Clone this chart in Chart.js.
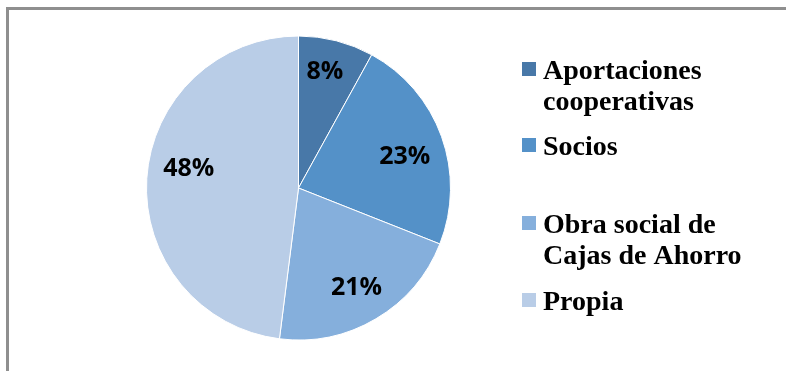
<!DOCTYPE html>
<html>
<head>
<meta charset="utf-8">
<script src="https://cdn.jsdelivr.net/npm/chart.js@4/dist/chart.umd.min.js"></script>
<style>
  html, body { margin: 0; padding: 0; background: #fff; }
  #wrap { position: relative; width: 786px; height: 371px; overflow: hidden; }
  #frame { position: absolute; left: 6px; top: 7px; width: 800px; height: 400px;
           border-top: 3px solid #8f8f8f; border-left: 3px solid #8f8f8f; }
  canvas { position: absolute; left: 0; top: 0; }
</style>
</head>
<body>
<div id="wrap">
  <div id="frame"></div>
  <canvas id="pie" width="786" height="371"></canvas>
</div>
<script>
/* datos del gráfico */
var categories = [['Aportaciones', 'cooperativas'], ['Socios'], ['Obra social de', 'Cajas de Ahorro'], ['Propia']];
var shares = [8, 23, 21, 48];
var sliceColors = ['#4878A8', '#5491C8', '#85AFDC', '#B9CDE7'];

/* etiquetas de porcentaje dentro de cada sector */
var pctLabels = {
  id: 'pctLabels',
  afterDatasetsDraw: function (chart, args, opts) {
    var ctx = chart.ctx;
    var meta = chart.getDatasetMeta(0);
    var data = chart.data.datasets[0].data;
    ctx.save();
    ctx.font = opts.font;
    ctx.fillStyle = '#000';
    ctx.textAlign = 'center';
    ctx.textBaseline = 'middle';
    meta.data.forEach(function (arc, i) {
      var p = arc.getProps(['x', 'y', 'startAngle', 'endAngle', 'outerRadius'], true);
      var mid = (p.startAngle + p.endAngle) / 2;
      var r = p.outerRadius * opts.radius;
      var nudge = opts.nudge[i] || [0, 0];
      ctx.fillText(data[i] + '%', p.x + Math.cos(mid) * r + nudge[0], p.y + Math.sin(mid) * r + nudge[1]);
    });
    ctx.restore();
  }
};

/* leyenda dibujada a la derecha, con etiquetas de varias líneas */
var sideLegend = {
  id: 'sideLegend',
  afterDraw: function (chart, args, opts) {
    var ctx = chart.ctx;
    var colors = chart.data.datasets[0].backgroundColor;
    ctx.save();
    ctx.font = opts.font;
    ctx.textBaseline = 'alphabetic';
    chart.data.labels.forEach(function (lines, i) {
      var base = opts.baselines[i];
      ctx.fillStyle = colors[i];
      ctx.fillRect(opts.boxX, base - opts.boxSize - 3, opts.boxSize, opts.boxSize);
      ctx.fillStyle = '#000';
      lines.forEach(function (t, j) {
        ctx.fillText(t, opts.textX, base + j * opts.lineHeight);
      });
    });
    ctx.restore();
  }
};

new Chart(document.getElementById('pie'), {
  type: 'pie',
  data: {
    labels: categories,
    datasets: [{
      data: shares,
      backgroundColor: sliceColors,
      borderColor: '#ffffff',
      borderWidth: 1
    }]
  },
  options: {
    responsive: false,
    animation: false,
    layout: { padding: { left: 146, top: 35, right: 335, bottom: 30 } },
    plugins: {
      legend: { display: false },
      tooltip: { enabled: false },
      pctLabels: {
        font: 'bold 25px "Open Sans", "Liberation Sans", sans-serif',
        radius: 0.75,
        nudge: [[-2, -6], [-1, 7], [0, 2], [4, -12]]
      },
      sideLegend: {
        font: 'bold 28px "Liberation Serif", "Times New Roman", serif',
        baselines: [79, 155, 233, 310],
        lineHeight: 31,
        boxX: 522,
        boxSize: 14,
        textX: 543
      }
    }
  },
  plugins: [pctLabels, sideLegend]
});
</script>
</body>
</html>
